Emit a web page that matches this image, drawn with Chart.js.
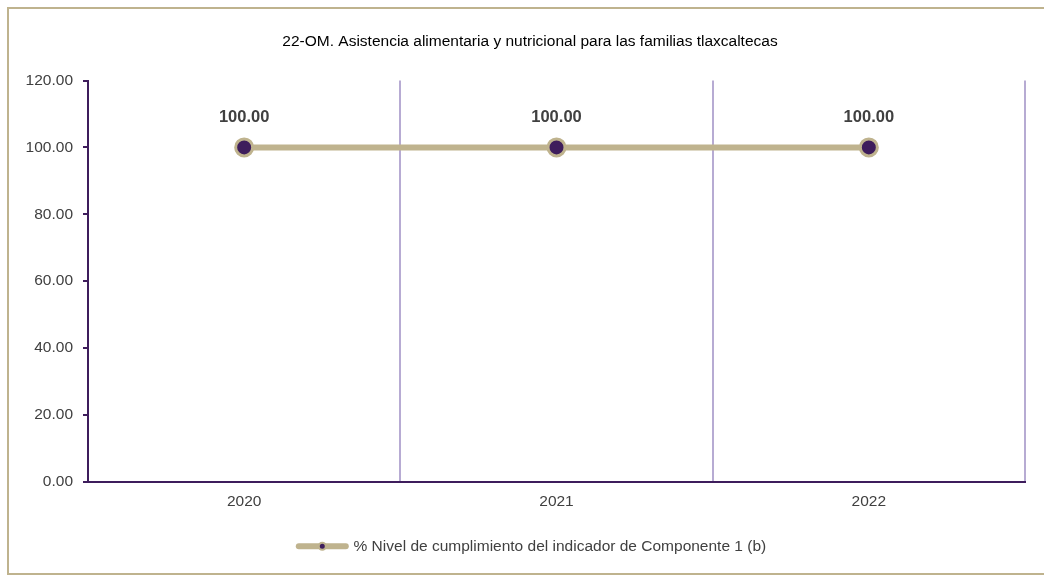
<!DOCTYPE html>
<html>
<head>
<meta charset="utf-8">
<script src="https://cdn.jsdelivr.net/npm/chart.js@4.4.1/dist/chart.umd.min.js"></script>
<style>
  html, body { margin: 0; padding: 0; background: #ffffff; }
  #wrap { position: relative; width: 1044px; height: 578px; overflow: hidden; }
  #frame { position: absolute; left: 7px; top: 7px; width: 1050px; height: 568px; border: 2px solid #BFB38E; box-sizing: border-box; pointer-events: none; }
  canvas { position: absolute; left: 0; top: 0; }
</style>
</head>
<body>
<div id="wrap">
  <canvas id="c" width="1044" height="578"></canvas>
  <div id="frame"></div>
</div>
<script>
const chartTitle = "22-OM. Asistencia alimentaria y nutricional para las familias tlaxcaltecas";
const categories = ["2020", "2021", "2022"];
const seriesLabel = "% Nivel de cumplimiento del indicador de Componente 1 (b)";
const seriesValues = [100, 100, 100];
const yTicks = [0, 20, 40, 60, 80, 100, 120];

const TAN = "#BFB38E";
const PURPLE = "#3E1D5C";
const GRID = "#B7ABD3";
const TEXT = "#404040";
const FONT = "'Liberation Sans', Arial, sans-serif";

const dataLabels = {
  id: "dataLabels",
  afterDatasetsDraw(chart) {
    const ctx = chart.ctx;
    ctx.save();
    ctx.font = "bold 16.5px " + FONT;
    ctx.fillStyle = TEXT;
    ctx.textAlign = "center";
    ctx.textBaseline = "middle";
    chart.data.datasets.forEach((ds, i) => {
      chart.getDatasetMeta(i).data.forEach((pt, j) => {
        ctx.fillText(ds.data[j].toFixed(2), pt.x, pt.y - 30);
      });
    });
    ctx.restore();
  }
};

const unclipY = {
  id: "unclipY",
  afterLayout(chart) {
    const y = chart.scales.y;
    if (y) { y.left = 0; }
  }
};

const legendMarker = {
  id: "legendMarker",
  afterDraw(chart) {
    const lg = chart.legend;
    if (!lg || !lg.legendHitBoxes) return;
    const ctx = chart.ctx;
    ctx.save();
    lg.legendHitBoxes.forEach((hb) => {
      const x0 = hb.left + 2, x1 = hb.left + 55;
      const cy = hb.top + hb.height / 2;
      ctx.beginPath();
      ctx.moveTo(x0 + 3, cy);
      ctx.lineTo(x1 - 3, cy);
      ctx.lineWidth = 6;
      ctx.lineCap = "round";
      ctx.strokeStyle = TAN;
      ctx.stroke();
      const cx = (x0 + x1) / 2;
      ctx.beginPath();
      ctx.arc(cx, cy, 3.5, 0, Math.PI * 2);
      ctx.fillStyle = PURPLE;
      ctx.fill();
      ctx.lineWidth = 2;
      ctx.strokeStyle = TAN;
      ctx.stroke();
    });
    ctx.restore();
  }
};

new Chart(document.getElementById("c"), {
  type: "line",
  data: {
    labels: categories,
    datasets: [{
      label: seriesLabel,
      data: seriesValues,
      borderColor: TAN,
      backgroundColor: TAN,
      borderWidth: 6,
      pointRadius: 8.5,
      pointHoverRadius: 8.5,
      pointBackgroundColor: PURPLE,
      pointBorderColor: TAN,
      pointBorderWidth: 3,
      tension: 0
    }]
  },
  options: {
    responsive: false,
    animation: false,
    events: [],
    layout: { padding: { left: 35, right: 19, top: 0, bottom: 14 } },
    plugins: {
      title: {
        display: true,
        text: chartTitle,
        color: "#000000",
        font: { family: FONT, size: 15.5, weight: "normal" },
        padding: { top: 32, bottom: 30 }
      },
      legend: {
        display: true,
        position: "bottom",
        labels: {
          color: TEXT,
          font: { family: FONT, size: 15.5 },
          boxWidth: 52,
          boxHeight: 5,
          padding: 10,
          generateLabels(chart) {
            return chart.data.datasets.map((ds, i) => ({
              text: ds.label,
              fillStyle: "rgba(0,0,0,0)",
              strokeStyle: "rgba(0,0,0,0)",
              lineWidth: 0,
              fontColor: TEXT,
              datasetIndex: i
            }));
          }
        }
      },
      tooltip: { enabled: false }
    },
    scales: {
      x: {
        offset: true,
        grid: { offset: true, color: GRID, lineWidth: 2, drawTicks: false },
        border: { color: PURPLE, width: 2 },
        ticks: { color: TEXT, font: { family: FONT, size: 15.5 }, padding: 11 },
        afterFit(s) { s.height = 47; }
      },
      y: {
        min: 0,
        max: 120,
        afterBuildTicks(s) { s.ticks = yTicks.map(v => ({ value: v })); },
        grid: { drawOnChartArea: false, drawTicks: true, tickLength: 5, color: PURPLE, lineWidth: 2 },
        border: { color: PURPLE, width: 2 },
        ticks: {
          color: TEXT,
          font: { family: FONT, size: 15.5 },
          padding: 10,
          callback: (v) => Number(v).toFixed(2)
        },
        afterFit(s) { s.width = 53; }
      }
    }
  },
  plugins: [unclipY, dataLabels, legendMarker]
});
</script>
</body>
</html>
